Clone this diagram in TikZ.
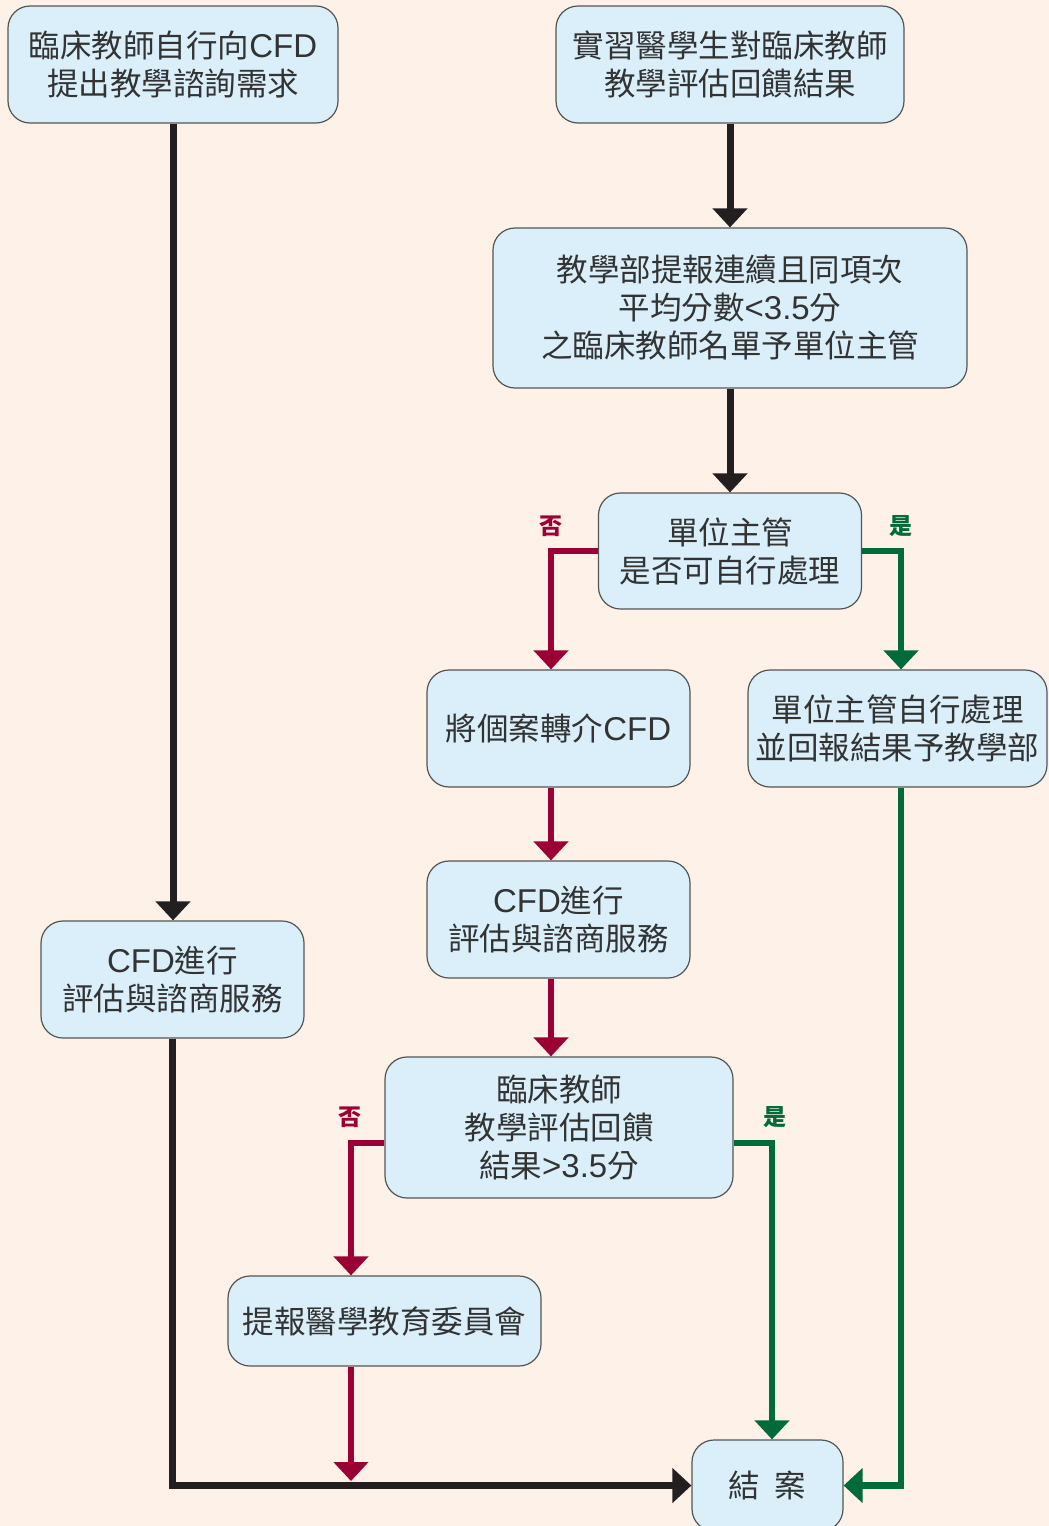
\documentclass[tikz,border=0pt]{standalone}
\usepackage{fontspec}
\setmainfont{Noto Sans CJK TC}
\newfontfamily\lsf{Liberation Sans}
\usetikzlibrary{arrows.meta,calc}

\definecolor{pagebg}{HTML}{FEF1E7}
\definecolor{boxfill}{HTML}{DAEFFA}
\definecolor{boxline}{HTML}{555555}
\definecolor{txt}{HTML}{333333}
\definecolor{nored}{HTML}{9B0034}
\definecolor{yesgreen}{HTML}{006B3A}
\definecolor{flowblack}{HTML}{231F20}

\newcommand{\lat}[1]{{\lsf\fontsize{33}{38}\selectfont #1}}

\begin{document}
\begin{tikzpicture}[x=1pt,y=-1pt,
  box/.style={draw=boxline, fill=boxfill, line width=1.2pt, rounded corners=22pt,
    align=center, text=txt, font=\fontsize{31.5}{38}\selectfont, inner sep=0pt},
  tip/.style={-{Triangle[length=19pt,width=34pt]}},
  fblack/.style={tip, draw=flowblack, line width=7pt},
  fred/.style={tip, draw=nored, line width=6.5pt},
  fgreen/.style={tip, draw=yesgreen, line width=6.5pt},
  lab/.style={font=\fontsize{23}{25}\selectfont\bfseries, inner sep=0pt}
]
% page
\fill[pagebg] (0,0) rectangle (1049,1526);
\useasboundingbox (0,0) rectangle (1049,1526);

% boxes
\node[box, minimum width=330pt, minimum height=117pt] (A) at (173,64.5)
  {臨床教師自行向\lat{CFD}\\提出教學諮詢需求};
\node[box, minimum width=348pt, minimum height=117pt] (B) at (730,64.5)
  {實習醫學生對臨床教師\\教學評估回饋結果};
\node[box, minimum width=474pt, minimum height=160pt] (C) at (730,308)
  {教學部提報連續且同項次\\平均分數\lat{<3.5}分\\之臨床教師名單予單位主管};
\node[box, minimum width=263pt, minimum height=116pt] (D) at (730,551)
  {單位主管\\是否可自行處理};
\node[box, minimum width=263pt, minimum height=117pt] (E) at (558.5,728.5)
  {將個案轉介\lat{CFD}};
\node[box, minimum width=299pt, minimum height=117pt] (F) at (897.5,728.5)
  {單位主管自行處理\\並回報結果予教學部};
\node[box, minimum width=263pt, minimum height=117pt] (G) at (558.5,919.5)
  {\lat{CFD}進行\\評估與諮商服務};
\node[box, minimum width=263pt, minimum height=117pt] (H) at (172.5,979.5)
  {\lat{CFD}進行\\評估與諮商服務};
\node[box, minimum width=348pt, minimum height=141pt] (I) at (559,1127.5)
  {臨床教師\\教學評估回饋\\結果\lat{>3.5}分};
\node[box, minimum width=313pt, minimum height=90pt] (J) at (384.5,1321)
  {提報醫學教育委員會};
\node[box, minimum width=151pt, minimum height=91pt] (K) at (767.5,1485.5)
  {結\hspace{0.45em}案};

% connector columns and rows
\coordinate (colL) at (551,0);
\coordinate (colF) at (901,0);
\coordinate (colJ) at (351,0);
\coordinate (colK) at (772,0);
\coordinate (rowI) at (0,1143);
\coordinate (hitJ) at (0,1481);

% connectors
\draw[fblack] (A.south) -- (A.south |- H.north);
\draw[fblack] (B.south) -- (C.north);
\draw[fblack] (C.south) -- (D.north);
\draw[fblack] (H.south) |- (K.west);
\draw[fred] (D.west) -| (E.north -| colL);
\draw[fgreen] (D.east) -| (F.north -| colF);
\draw[fred] (E.south -| colL) -- (G.north -| colL);
\draw[fred] (G.south -| colL) -- (I.north -| colL);
\draw[fred] (I.west |- rowI) -| (J.north -| colJ);
\draw[fgreen] (I.east |- rowI) -| (K.north -| colK);
\draw[fred] (J.south -| colJ) -- (colJ |- hitJ);
\draw[fgreen] (F.south -| colF) |- (K.east);

% branch labels
\node[lab, text=nored] (n1) at (551,526) {否};
\node[lab, text=yesgreen] (y1) at (901,526) {是};
\node[lab, text=nored] (n2) at (350,1117) {否};
\node[lab, text=yesgreen] (y2) at (775,1117) {是};
\end{tikzpicture}
\end{document}
